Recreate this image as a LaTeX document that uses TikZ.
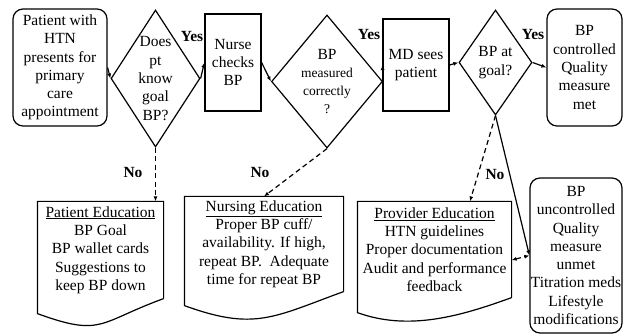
\documentclass[tikz,border=0pt]{standalone}
\usepackage{fontspec}
\setmainfont{Liberation Serif}
\usetikzlibrary{shapes.geometric,arrows.meta,calc}
% rectangle with a wavy bottom, drawn round a text node
\newcommand{\docoutline}[3]{%
  \draw (#1.south east) -- (#1.north east) -- (#1.north west) -- ($(#1.south west)+(0,-#2)$)
    to[out=-20, in=200, looseness=#3] (#1.south east);
}
\newcommand{\sm}[1]{{\fontsize{13.5}{15.5}\selectfont #1}}
\begin{document}
\begin{tikzpicture}
[x=1pt, y=1pt, line width=1.2pt,
 font=\fontsize{15.5}{18.3}\selectfont,
 box/.style={draw, align=center, inner sep=0pt},
 roundbox/.style={box, rounded corners=10pt},
 ask/.style={draw, diamond, align=center, inner sep=-8pt},
 doc/.style={align=center, inner sep=0pt},
 answer/.style={font=\fontsize{15.5}{18}\selectfont\bfseries},
 go/.style={-{Latex[length=5pt,width=4pt]}},
 fix/.style={go, dash pattern=on 5pt off 3.5pt}]
\useasboundingbox (0,0) rectangle (624,335);

% top row
\node[roundbox, minimum width=94pt, minimum height=117pt] (start) at (60,267.5) {Patient with\\HTN\\presents for\\primary\\care\\appointment};
\node[ask, minimum width=89pt, minimum height=137pt] (knowgoal) at (155.5,256.5) {Does\\pt\\know\\goal\\BP?};
\node[box, minimum width=56pt, minimum height=97pt] (nurse) at (233,272.5) {Nurse\\checks\\BP};
\node[ask, minimum width=111pt, minimum height=133pt] (measured) at (327,253.5) {BP\\\sm{measured}\\\sm{correctly}\\\sm{?}};
\node[box, minimum width=66pt, minimum height=92pt] (md) at (416,270) {MD sees\\patient};
\node[ask, minimum width=73pt, minimum height=105pt] (atgoal) at (495.5,272.5) {BP at\\goal?};
\node[roundbox, minimum width=75pt, minimum height=117pt] (controlled) at (584.5,267.5) {BP\\controlled\\Quality\\measure\\met};

% bottom row
\node[doc, minimum width=125pt, minimum height=96pt] (patedu) at (100.5,85) {\underline{Patient Education}\\BP Goal\\BP wallet cards\\Suggestions to\\keep BP down};
\node[doc, minimum width=158pt, minimum height=94pt] (nursedu) at (264,91) {\underline{Nursing Education}\\Proper BP cuff/\\availability. If high,\\repeat BP.\ \ Adequate\\time for repeat BP};
\node[doc, minimum width=153pt, minimum height=95pt] (provedu) at (434.5,85.5) {\underline{Provider Education}\\HTN guidelines\\Proper documentation\\Audit and performance\\feedback};
\node[roundbox, minimum width=92pt, minimum height=155pt] (uncontrolled) at (576,79.5) {BP\\uncontrolled\\Quality\\measure\\unmet\\Titration meds\\Lifestyle\\modifications};
\docoutline{patedu}{15}{1.4}
\docoutline{nursedu}{14}{1.2}
\docoutline{provedu}{15}{0.9}

% yes
\draw[go] (start.east) -- (knowgoal.west);
\draw[go] (knowgoal.east) -- (nurse.west);
\draw[go] (nurse.east) -- (measured.west);
\draw[go] (measured.east) -- (md.west);
\draw[go] (md.east) -- (atgoal.west);
\draw[go] (atgoal.east) -- (controlled.west);
\node[answer] (yes1) at (192,298) {Yes};
\node[answer] (yes2) at (369,300) {Yes};
\node[answer] (yes3) at (533,300) {Yes};

% no
\draw[fix] (knowgoal.south) -- (patedu.north -| knowgoal.south);
\draw[fix] (measured.south) -- (nursedu.north);
\draw[fix] (atgoal.south) -- ($(provedu.north west)!0.73!(provedu.north east)$);
\draw[go] (atgoal.south) -- (uncontrolled.west);
\draw[fix, {Latex[length=5pt,width=4pt]}-{Latex[length=5pt,width=4pt]}] ($(provedu.south east)!0.39!(provedu.north east)$) -- (uncontrolled.west);
\node[answer] (no1) at (133,162) {No};
\node[answer] (no2) at (260,162) {No};
\node[answer] (no3) at (495,160) {No};
\end{tikzpicture}
\end{document}
